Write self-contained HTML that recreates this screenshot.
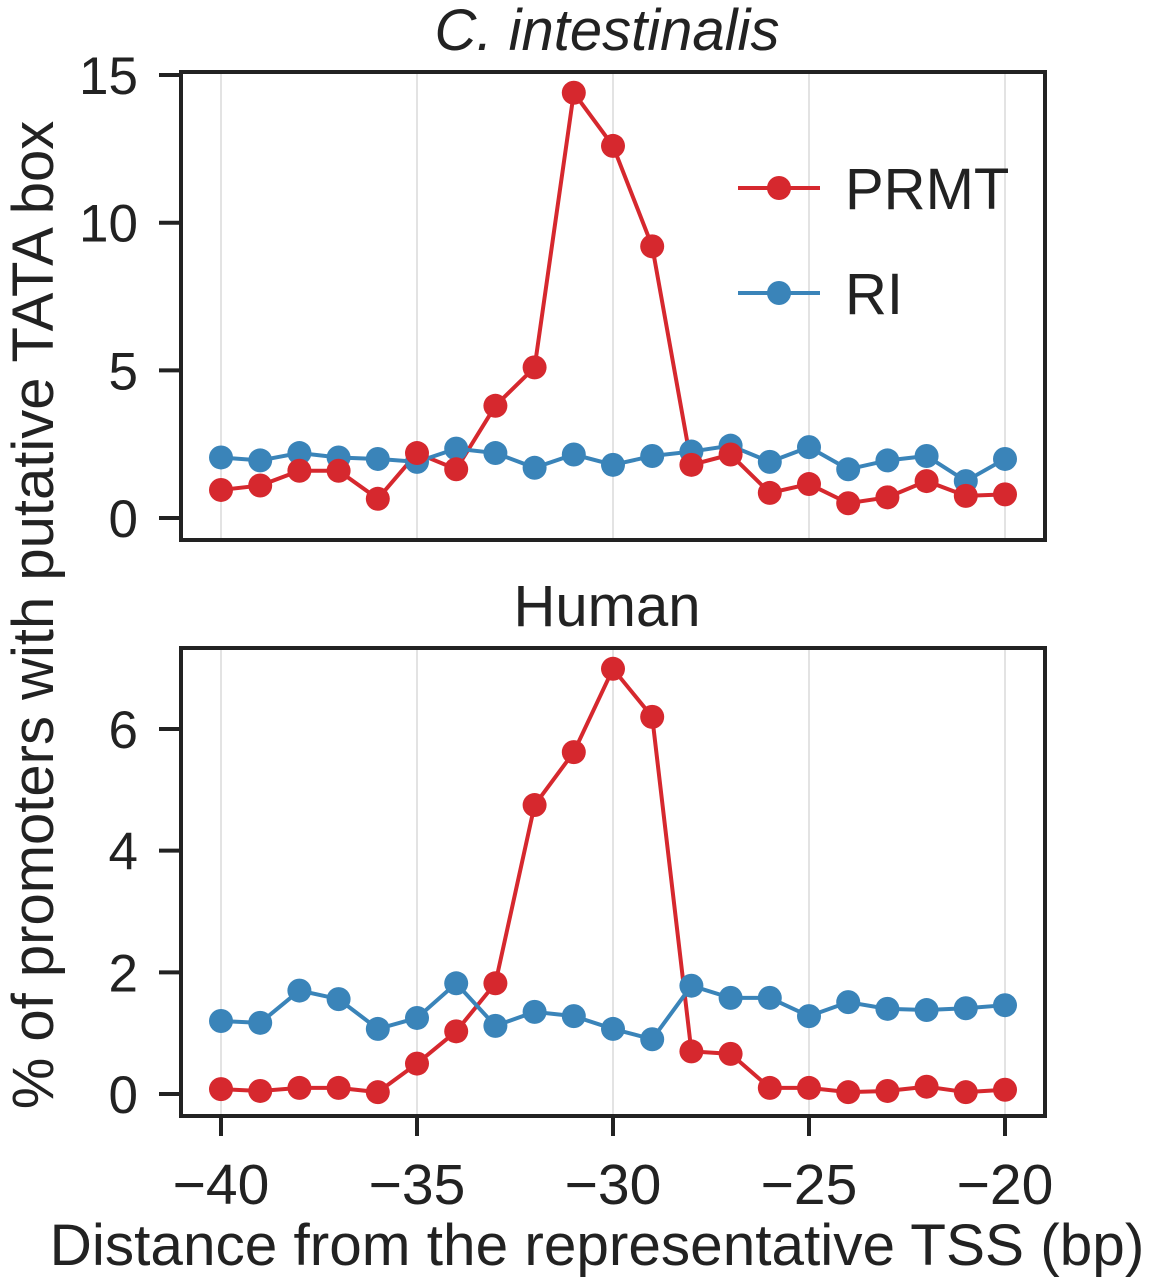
<!DOCTYPE html>
<html><head><meta charset="utf-8"><style>
html,body{margin:0;padding:0;background:#fff;}
svg text{font-family:"Liberation Sans",Arial,sans-serif;fill:#222;}
</style></head><body>
<svg id="chart" width="1150" height="1280" viewBox="0 0 1150 1280"></svg>
<script>
const positions = [-40,-39,-38,-37,-36,-35,-34,-33,-32,-31,-30,-29,-28,-27,-26,-25,-24,-23,-22,-21,-20];
const topPRMT = [0.95,1.1,1.6,1.6,0.65,2.2,1.65,3.8,5.1,14.4,12.6,9.2,1.8,2.15,0.85,1.15,0.5,0.7,1.25,0.75,0.8];
const topRI = [2.05,1.95,2.2,2.05,2.0,1.9,2.35,2.2,1.7,2.15,1.8,2.1,2.25,2.45,1.9,2.4,1.65,1.95,2.1,1.25,2.0];
const botPRMT = [0.08,0.05,0.1,0.1,0.03,0.5,1.03,1.82,4.75,5.62,6.99,6.2,0.7,0.66,0.1,0.1,0.03,0.05,0.12,0.03,0.07];
const botRI = [1.2,1.17,1.7,1.56,1.07,1.25,1.82,1.12,1.35,1.28,1.07,0.9,1.78,1.58,1.58,1.28,1.51,1.4,1.38,1.41,1.46];
const xTicks = [-40,-35,-30,-25,-20];
const topYTicks = [0,5,10,15];
const botYTicks = [0,2,4,6];

const NS="http://www.w3.org/2000/svg";
const svg=document.getElementById('chart');
const RED="#d6282e", BLUE="#3a84b9";
function el(tag,attrs,parent){const e=document.createElementNS(NS,tag);for(const k in attrs)e.setAttribute(k,attrs[k]);(parent||svg).appendChild(e);return e;}
function txt(x,y,s,anchor,size,parent,extra){
  const t=el('text',Object.assign({x:x,y:y,'text-anchor':anchor,'font-size':size},extra||{}),parent);
  t.textContent=s;return t;
}
const xScale=v=>221+(v+40)*39.2;
const left=181,right=1045;

function panel(name,top,bottom,y0px,pxPer,yTicks,prmt,ri,title,titleY,italic){
  const g=el('g',{});
  
  
  const yScale=v=>y0px-v*pxPer;
  xTicks.forEach(t=>{const l=el('line',{x1:xScale(t),x2:xScale(t),y1:top,y2:bottom,stroke:'#e3e3e3','stroke-width':2},g);
    });
  yTicks.forEach(t=>{
    const l=el('line',{x1:left-22,x2:left,y1:yScale(t),y2:yScale(t),stroke:'#222','stroke-width':4},g);
    
    const tx=txt(138,yScale(t)+19,String(t),'end',53,g);
    
  });
  [[prmt,RED,'prmt'],[ri,BLUE,'ri']].forEach(([vals,c,n])=>{
    const pts=vals.map((v,i)=>xScale(positions[i])+','+yScale(v)).join(' ');
    const pl=el('polyline',{points:pts,fill:'none',stroke:c,'stroke-width':4},g);
    
  });
  [[ri,BLUE,'ri'],[prmt,RED,'prmt']].forEach(([vals,c,n])=>{
    vals.forEach((v,i)=>{const p=el('circle',{cx:xScale(positions[i]),cy:yScale(v),r:12,fill:c},g);
      });
  });
  const f=el('rect',{x:left,y:top,width:right-left,height:bottom-top,fill:'none',stroke:'#222','stroke-width':4},g);
  
  const t=txt(607,titleY,title,'middle',58,g,italic?{'font-style':'italic'}:{});
  
}
panel('top',72,540,518,29.53,topYTicks,topPRMT,topRI,'C. intestinalis',50,true);
panel('bottom',648,1116,1094,60.83,botYTicks,botPRMT,botRI,'Human',626,false);

xTicks.forEach(t=>{
  const l=el('line',{x1:xScale(t),x2:xScale(t),y1:1116,y2:1136,stroke:'#222','stroke-width':4});
  
  const tx=txt(xScale(t),1204,'\u2212'+Math.abs(t),'middle',57);
  
});
const xt=txt(597,1265,'Distance from the representative TSS (bp)','middle',58.5);

const yt=el('text',{x:0,y:0,'text-anchor':'middle','font-size':58,transform:'translate(53,615) rotate(-90)'});
yt.textContent='% of promoters with putative TATA box';


[['PRMT',RED,188,'prmt'],['RI',BLUE,293,'ri']].forEach(([lab,c,y,n])=>{
  const g=el('g',{});
  
  el('line',{x1:738,x2:820,y1:y,y2:y,stroke:c,'stroke-width':4},g);
  el('circle',{cx:779,cy:y,r:12,fill:c},g);
  txt(845,y+21,lab,'start',58,g);
});
</script>
</body></html>
